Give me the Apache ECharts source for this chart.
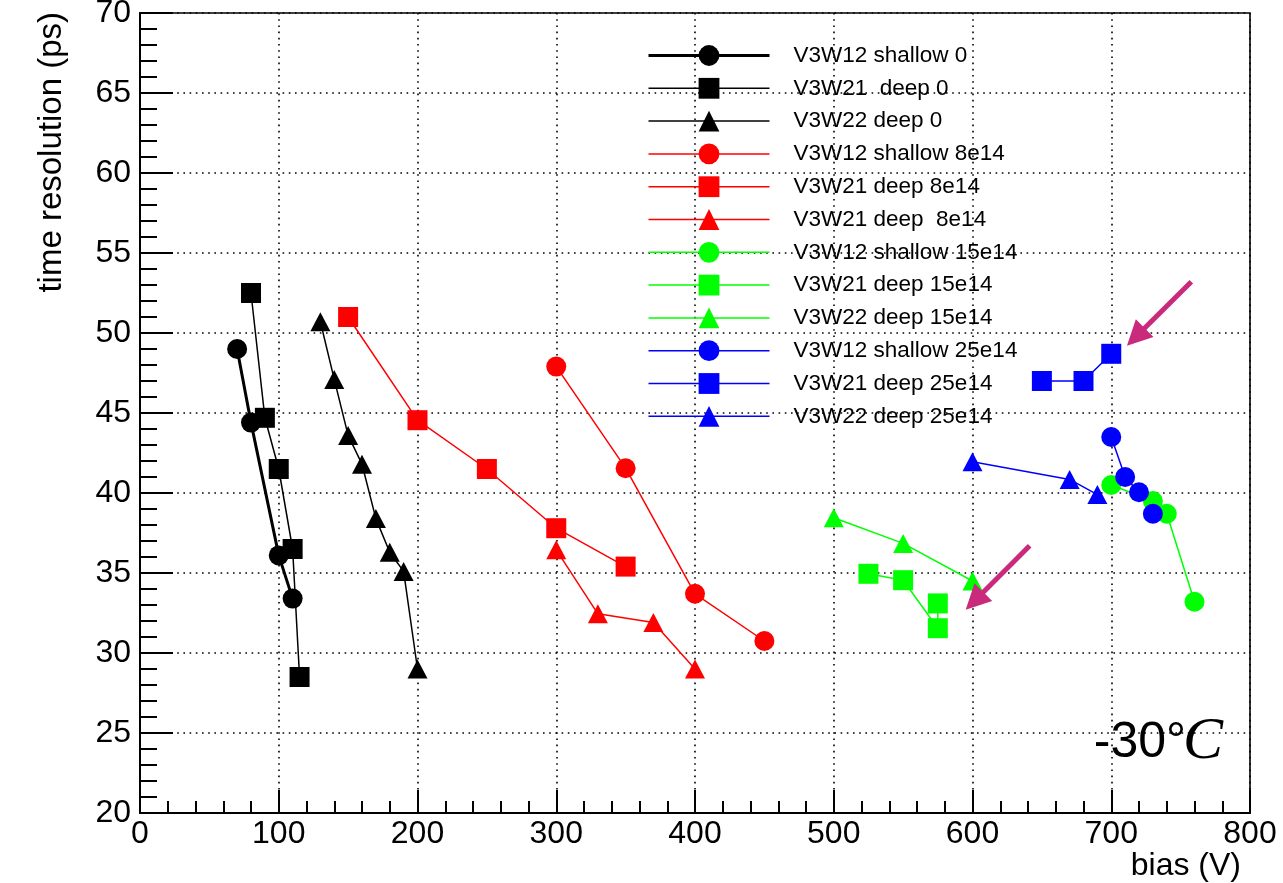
<!DOCTYPE html>
<html>
<head>
<meta charset="utf-8">
<script src="https://cdn.jsdelivr.net/npm/echarts@6/dist/echarts.min.js"></script>
<style>
  html, body { margin: 0; padding: 0; background: #ffffff; }
  #chart { width: 1283px; height: 883px; }
</style>
</head>
<body>
<div id="chart"></div>
<script>
// Time resolution (ps) versus bias (V) at -30 C, per sensor and fluence

// axis ranges and tick steps
const xRange = [0, 800];
const xStep = 100;
const yRange = [20, 70];
const yStep = 5;

// legend entries, in drawing order
const seriesNames = [
  'V3W12 shallow 0',
  'V3W21  deep 0',
  'V3W22 deep 0',
  'V3W12 shallow 8e14',
  'V3W21 deep 8e14',
  'V3W21 deep  8e14',
  'V3W12 shallow 15e14',
  'V3W21 deep 15e14',
  'V3W22 deep 15e14',
  'V3W12 shallow 25e14',
  'V3W21 deep 25e14',
  'V3W22 deep 25e14'
];

// [bias, resolution] points for each entry
const shallow0     = [[70, 49.0], [80, 44.4], [100, 36.1], [110, 33.4]];
const deepW21_0    = [[80, 52.5], [90, 44.7], [100, 41.5], [110, 36.5], [115, 28.5]];
const deepW22_0    = [[130, 50.7], [140, 47.1], [150, 43.6], [160, 41.8], [170, 38.4], [180, 36.3], [190, 35.1], [200, 29.0]];
const shallow8e14  = [[300, 47.9], [350, 41.55], [400, 33.7], [450, 30.75]];
const deepW21_8e14 = [[150, 51.0], [200, 44.55], [250, 41.5], [300, 37.8], [350, 35.4]];
const deepW21b_8e14 = [[300, 36.45], [330, 32.45], [370, 31.9], [400, 29.0]];
const shallow15e14 = [[700, 40.5], [730, 39.5], [740, 38.7], [760, 33.2]];
const deepW21_15e14 = [[525, 34.95], [550, 34.55], [575, 31.55], [575, 33.1]];
const deepW22_15e14 = [[500, 38.45], [550, 36.85], [600, 34.5]];
const shallow25e14 = [[700, 43.5], [710, 41.0], [720, 40.05], [730, 38.7]];
const deepW21_25e14 = [[650, 47.0], [680, 47.0], [700, 48.7]];
const deepW22_25e14 = [[600, 41.95], [670, 40.85], [690, 39.9]];

const seriesData = [
  shallow0, deepW21_0, deepW22_0,
  shallow8e14, deepW21_8e14, deepW21b_8e14,
  shallow15e14, deepW21_15e14, deepW22_15e14,
  shallow25e14, deepW21_25e14, deepW22_25e14
];

const seriesColors = [
  '#000000', '#000000', '#000000',
  '#ff0000', '#ff0000', '#ff0000',
  '#00ff00', '#00ff00', '#00ff00',
  '#0000ff', '#0000ff', '#0000ff'
];
const seriesSymbols = [
  'circle', 'rect', 'triangle',
  'circle', 'rect', 'triangle',
  'circle', 'rect', 'triangle',
  'circle', 'rect', 'triangle'
];
const seriesLineWidths = [3, 1.5, 1.5, 1.5, 1.5, 1.5, 1.5, 1.5, 1.5, 1.5, 1.5, 1.5];

// annotation arrows: tail and tip in data units
const arrowTails = [[757.7, 53.2], [641.2, 36.7]];
const arrowTips  = [[711.3, 49.2], [595.1, 32.7]];
const arrowColor = '#c92a7c';

const FONT = "'Liberation Sans', Arial, Helvetica, sans-serif";

const chart = echarts.init(document.getElementById('chart'), null, { renderer: 'canvas' });

const dotted = { color: '#000', width: 1.6, type: [1.6, 4.6] };

const lineSeries = seriesNames.map((name, i) => ({
  name: name,
  type: 'line',
  data: seriesData[i],
  symbol: seriesSymbols[i],
  symbolSize: seriesSymbols[i] === 'triangle' ? [20, 19] : 20,
  lineStyle: { color: seriesColors[i], width: seriesLineWidths[i] },
  itemStyle: { color: seriesColors[i] },
  emphasis: { disabled: true },
  silent: true,
  z: 3
}));

const arrowSeries = {
  type: 'custom',
  silent: true,
  z: 4,
  data: arrowTails.map((t, i) => [t[0], t[1], arrowTips[i][0], arrowTips[i][1]]),
  encode: { x: [0, 2], y: [1, 3] },
  renderItem: function (params, api) {
    const p0 = api.coord([api.value(0), api.value(1)]);
    const p1 = api.coord([api.value(2), api.value(3)]);
    const dx = p1[0] - p0[0], dy = p1[1] - p0[1];
    const len = Math.hypot(dx, dy);
    const ux = dx / len, uy = dy / len;
    const headLen = 25, headHalf = 12.5;
    const bx = p1[0] - ux * headLen, by = p1[1] - uy * headLen;
    return {
      type: 'group',
      children: [
        { type: 'line', shape: { x1: p0[0], y1: p0[1], x2: bx + ux * 2, y2: by + uy * 2 },
          style: { stroke: arrowColor, lineWidth: 5 } },
        { type: 'polygon',
          shape: { points: [[p1[0], p1[1]], [bx - uy * headHalf, by + ux * headHalf], [bx + uy * headHalf, by - ux * headHalf]] },
          style: { fill: arrowColor } }
      ]
    };
  }
};

const option = {
  animation: false,
  backgroundColor: '#ffffff',
  grid: {
    left: 140, right: 33, top: 13, bottom: 70,
    show: true, borderColor: '#000', borderWidth: 1.6,
    containLabel: false, outerBoundsMode: 'none'
  },
  legend: {
    orient: 'vertical',
    left: 647,
    top: 44,
    padding: 0,
    itemWidth: 121,
    itemHeight: 26,
    itemGap: 9.8,
    selectedMode: false,
    data: seriesNames.map((name, i) => ({
      name: name,
      lineStyle: { width: seriesLineWidths[i], color: seriesColors[i] }
    })),
    textStyle: { fontFamily: FONT, fontSize: 22.5, color: '#000', padding: [0, 0, 0, 19] }
  },
  xAxis: {
    type: 'value',
    min: xRange[0], max: xRange[1], interval: xStep,
    axisLine: { show: true, onZero: false, lineStyle: { color: '#000', width: 2 } },
    axisTick: { show: true, inside: true, length: 23, lineStyle: { color: '#000', width: 2 } },
    minorTick: { show: true, splitNumber: 5, length: 12, lineStyle: { color: '#000', width: 2 } },
    splitLine: { show: true, lineStyle: dotted },
    axisLabel: { color: '#000', fontFamily: FONT, fontSize: 32, margin: 5, showMinLabel: true, showMaxLabel: true }
  },
  yAxis: {
    type: 'value',
    min: yRange[0], max: yRange[1], interval: yStep,
    axisLine: { show: true, onZero: false, lineStyle: { color: '#000', width: 2 } },
    axisTick: { show: true, inside: true, length: 33, lineStyle: { color: '#000', width: 2 } },
    minorTick: { show: true, splitNumber: 5, length: 17, lineStyle: { color: '#000', width: 2 } },
    splitLine: { show: true, lineStyle: dotted },
    axisLabel: { color: '#000', fontFamily: FONT, fontSize: 32, margin: 9, showMinLabel: true, showMaxLabel: true }
  },
  graphic: [
    {
      type: 'text', x: 52, y: 12, rotation: Math.PI / 2, silent: true,
      style: { text: 'time resolution (ps)', font: '33px ' + FONT, fill: '#000', textAlign: 'right', textVerticalAlign: 'middle' }
    },
    {
      type: 'text', x: 1241, y: 866, silent: true,
      style: { text: 'bias (V)', font: '32px ' + FONT, fill: '#000', textAlign: 'right', textVerticalAlign: 'middle' }
    },
    {
      type: 'text', x: 1186, y: 743.5, silent: true,
      style: { text: '-30°', font: '50px ' + FONT, fill: '#000', textAlign: 'right', textVerticalAlign: 'middle' }
    },
    {
      type: 'text', x: 1183, y: 742, silent: true,
      style: { text: 'C', font: "italic 60px 'Liberation Serif', 'Times New Roman', serif", fill: '#000', textAlign: 'left', textVerticalAlign: 'middle' }
    }
  ],
  series: lineSeries.concat([arrowSeries])
};

chart.setOption(option);
</script>
</body>
</html>
